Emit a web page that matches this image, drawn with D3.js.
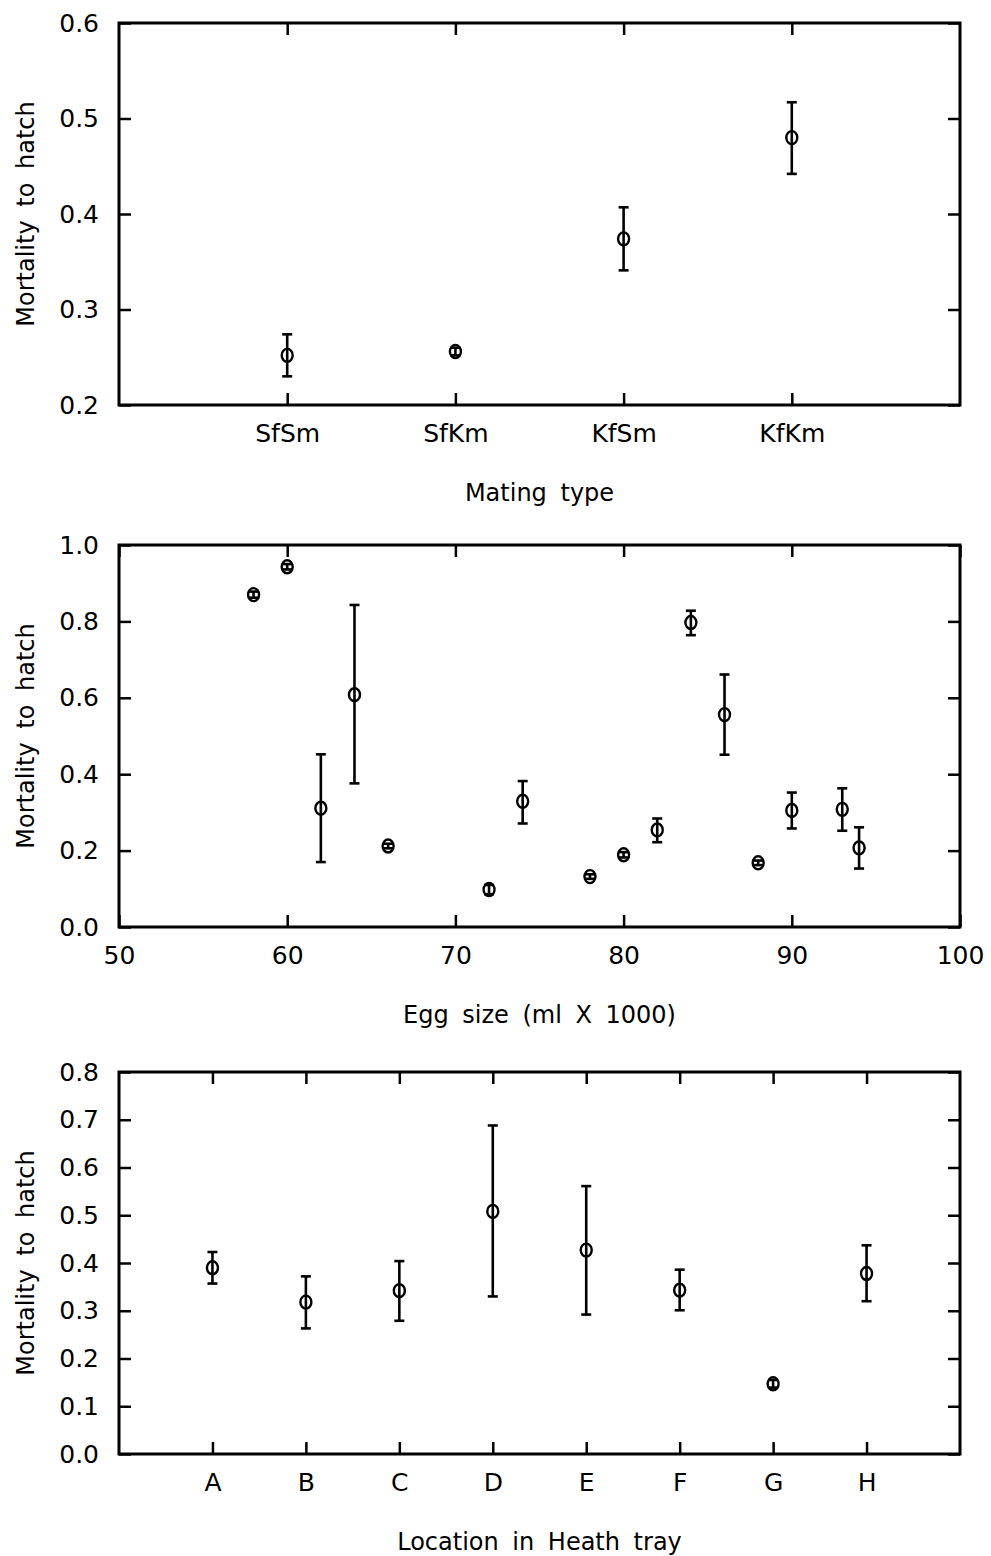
<!DOCTYPE html>
<html>
<head>
<meta charset="utf-8">
<script src="https://cdn.jsdelivr.net/npm/d3@7"></script>
<style>
  body { margin: 0; background: #fff; }
  text { font-family: "DejaVu Sans", "Liberation Sans", Arial, sans-serif; fill: #000; }
</style>
</head>
<body>
<script>
/*
    GLOBAL LAYOUT CONSTANTS
*/
var width = 991;
var height = 1556;
var plotLeft = 119;
var plotRight = 960;
var plotH = 382;
var panelTops = [23, 545, 1072];

/*
    DATA (mean with error bar ends)
*/
// panel 1 : mating type
var matingTypes = ["SfSm", "SfKm", "KfSm", "KfKm"];
var matingMean  = [0.252, 0.256, 0.374, 0.480];
var matingLow   = [0.230, 0.252, 0.341, 0.442];
var matingHigh  = [0.274, 0.260, 0.407, 0.517];
var matingTicks = [0.2, 0.3, 0.4, 0.5, 0.6];

// panel 2 : egg size
var eggSize  = [58, 60, 62, 64, 66, 72, 74, 78, 80, 82, 84, 86, 88, 90, 93, 94];
var eggMean  = [0.870, 0.943, 0.311, 0.608, 0.212, 0.098, 0.329, 0.132, 0.189, 0.254, 0.797, 0.556, 0.168, 0.305, 0.308, 0.207];
var eggLow   = [0.862, 0.936, 0.170, 0.376, 0.206, 0.086, 0.271, 0.126, 0.182, 0.222, 0.764, 0.451, 0.162, 0.258, 0.252, 0.153];
var eggHigh  = [0.878, 0.950, 0.452, 0.843, 0.218, 0.110, 0.382, 0.138, 0.196, 0.284, 0.828, 0.661, 0.174, 0.352, 0.363, 0.261];
var eggXTicks = [50, 60, 70, 80, 90, 100];
var eggYTicks = [0.0, 0.2, 0.4, 0.6, 0.8, 1.0];

// panel 3 : location in Heath tray
var trayLoc  = ["A", "B", "C", "D", "E", "F", "G", "H"];
var trayMean = [0.390, 0.318, 0.342, 0.508, 0.427, 0.343, 0.147, 0.378];
var trayLow  = [0.357, 0.263, 0.279, 0.330, 0.292, 0.301, 0.139, 0.320];
var trayHigh = [0.423, 0.372, 0.404, 0.688, 0.561, 0.386, 0.155, 0.437];
var trayTicks = [0.0, 0.1, 0.2, 0.3, 0.4, 0.5, 0.6, 0.7, 0.8];

var yTitle = "Mortality to hatch";

var svg = d3.select("body").append("svg")
    .attr("width", width)
    .attr("height", height);

function zip(xs, mean, low, high) {
  return xs.map(function(d, i) { return {x: d, m: mean[i], lo: low[i], hi: high[i]}; });
}

function drawPanel(p) {
  var top = p.top;
  var g = svg.append("g").attr("transform", "translate(0," + top + ")");
  var x = p.x, y = p.y;

  // inward tick marks on all four sides
  g.append("g")
      .attr("transform", "translate(" + plotLeft + ",0)")
      .call(d3.axisLeft(y).tickValues(p.yTicks).tickSizeInner(-12).tickSizeOuter(0)
            .tickPadding(20).tickFormat(d3.format(".1f")))
      .call(styleAxis);
  g.append("g")
      .attr("transform", "translate(" + plotRight + ",0)")
      .call(d3.axisRight(y).tickValues(p.yTicks).tickSizeInner(-12).tickSizeOuter(0)
            .tickFormat(""))
      .call(styleAxis);
  g.append("g")
      .attr("transform", "translate(0," + plotH + ")")
      .call(d3.axisBottom(x).tickValues(p.xTicks).tickSizeInner(-12).tickSizeOuter(0)
            .tickPadding(19).tickFormat(p.xFormat))
      .call(styleAxis);
  g.append("g")
      .call(d3.axisTop(x).tickValues(p.xTicks).tickSizeInner(-12).tickSizeOuter(0)
            .tickFormat(""))
      .call(styleAxis);

  // frame
  g.append("rect")
      .attr("x", plotLeft).attr("y", 0)
      .attr("width", plotRight - plotLeft).attr("height", plotH)
      .attr("fill", "none").attr("stroke", "#000").attr("stroke-width", 3);

  // error bars
  var pts = g.selectAll(".pt").data(p.data).enter().append("g").attr("class", "pt");
  pts.append("line")
      .attr("x1", function(d) { return x(d.x); })
      .attr("x2", function(d) { return x(d.x); })
      .attr("y1", function(d) { return y(d.lo); })
      .attr("y2", function(d) { return y(d.hi); })
      .attr("stroke", "#000").attr("stroke-width", 2.6);
  ["lo", "hi"].forEach(function(k) {
    pts.append("line")
        .attr("x1", function(d) { return x(d.x) - 5; })
        .attr("x2", function(d) { return x(d.x) + 5; })
        .attr("y1", function(d) { return y(d[k]); })
        .attr("y2", function(d) { return y(d[k]); })
        .attr("stroke", "#000").attr("stroke-width", 2.6);
  });
  pts.append("ellipse")
      .attr("cx", function(d) { return x(d.x); })
      .attr("cy", function(d) { return y(d.m); })
      .attr("rx", 5.5).attr("ry", 6.5)
      .attr("fill", "none").attr("stroke", "#000").attr("stroke-width", 2.4);

  // titles
  g.append("text")
      .attr("transform", "translate(26," + (plotH / 2) + ") rotate(-90)")
      .attr("text-anchor", "middle")
      .attr("dy", "0.35em")
      .style("font-size", "24px")
      .style("word-spacing", "6px")
      .text(yTitle);
  g.append("text")
      .attr("x", (plotLeft + plotRight) / 2)
      .attr("y", plotH + 96)
      .attr("text-anchor", "middle")
      .style("font-size", "24px")
      .style("word-spacing", "6px")
      .text(p.xTitle);
}

function styleAxis(sel) {
  sel.select(".domain").remove();
  sel.selectAll(".tick line").attr("stroke", "#000").attr("stroke-width", 2.5);
  sel.selectAll(".tick text").style("font-size", "25px").attr("fill", "#000");
}

// panel 1
var x1 = d3.scalePoint().domain(matingTypes).range([plotLeft, plotRight]).padding(1);
var y1 = d3.scaleLinear().domain([0.2, 0.6]).range([plotH, 0]);
drawPanel({
  top: panelTops[0], x: x1, y: y1,
  xTicks: matingTypes, yTicks: matingTicks, xFormat: function(d) { return d; },
  data: zip(matingTypes, matingMean, matingLow, matingHigh),
  xTitle: "Mating type"
});

// panel 2
var x2 = d3.scaleLinear().domain([50, 100]).range([plotLeft, plotRight]);
var y2 = d3.scaleLinear().domain([0, 1]).range([plotH, 0]);
drawPanel({
  top: panelTops[1], x: x2, y: y2,
  xTicks: eggXTicks, yTicks: eggYTicks, xFormat: d3.format("d"),
  data: zip(eggSize, eggMean, eggLow, eggHigh),
  xTitle: "Egg size (ml X 1000)"
});

// panel 3
var x3 = d3.scalePoint().domain(trayLoc).range([plotLeft, plotRight]).padding(1);
var y3 = d3.scaleLinear().domain([0, 0.8]).range([plotH, 0]);
drawPanel({
  top: panelTops[2], x: x3, y: y3,
  xTicks: trayLoc, yTicks: trayTicks, xFormat: function(d) { return d; },
  data: zip(trayLoc, trayMean, trayLow, trayHigh),
  xTitle: "Location in Heath tray"
});
</script>
</body>
</html>
